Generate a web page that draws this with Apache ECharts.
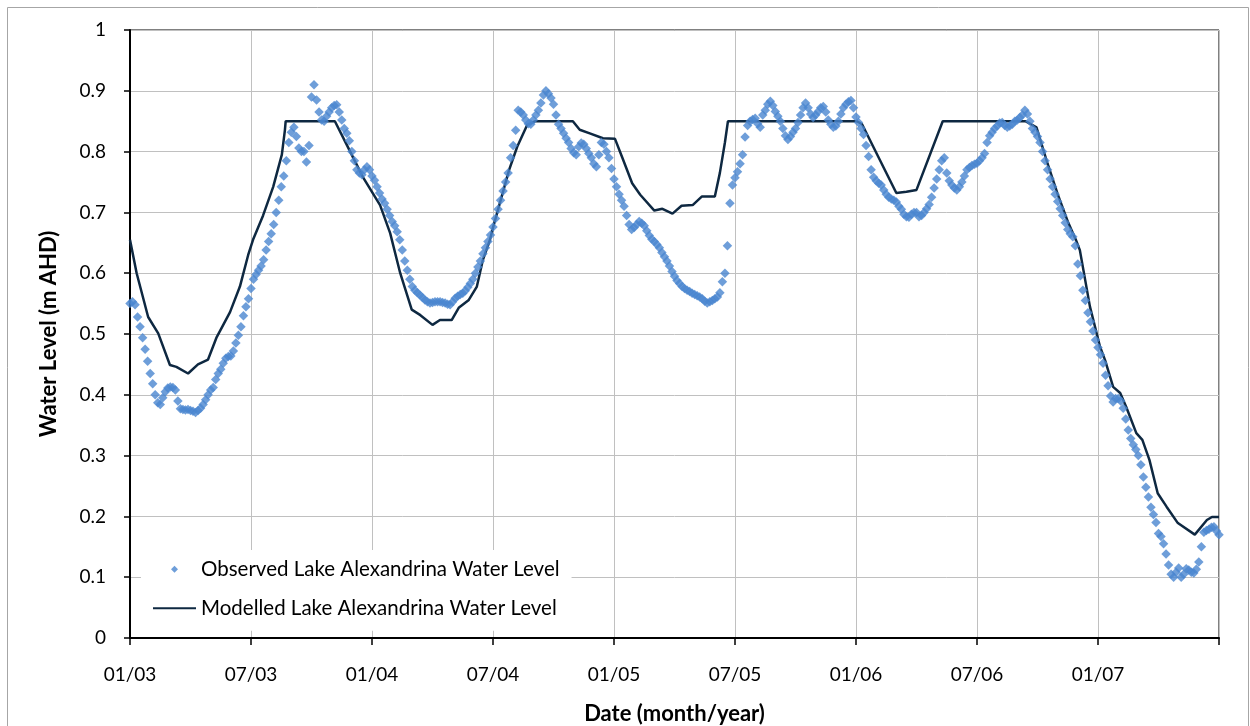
<!DOCTYPE html>
<html><head><meta charset="utf-8">
<script src="https://cdn.jsdelivr.net/npm/echarts@6/dist/echarts.min.js"></script>
<style>html,body{margin:0;padding:0;background:#fff}#c{width:1250px;height:726px}</style>
</head><body><div id="c"></div>
<script>
// X axis: months since January 2003 (tick every 6 months)
const xTickLabels = ['01/03','07/03','01/04','07/04','01/05','07/05','01/06','07/06','01/07',''];
const xAxisTitle = 'Date (month/year)';
const yAxisTitle = 'Water Level (m AHD)';
const observedName = 'Observed Lake Alexandrina Water Level';
const modelledName = 'Modelled Lake Alexandrina Water Level';

// Observed level, read every 1/8 month from 01/2003 (one row per month)
const obsStepMonths = 0.125;
const observedLevel = [
  0.550,0.553,0.548,0.528,0.512,0.494,0.475,0.455,
  0.435,0.418,0.400,0.387,0.384,0.395,0.405,0.411,
  0.413,0.412,0.408,0.390,0.377,0.376,0.375,0.376,
  0.374,0.373,0.371,0.374,0.378,0.384,0.392,0.400,
  0.408,0.412,0.425,0.435,0.442,0.452,0.460,0.463,
  0.464,0.472,0.485,0.498,0.512,0.530,0.545,0.558,
  0.575,0.590,0.598,0.605,0.612,0.622,0.638,0.652,
  0.665,0.680,0.700,0.720,0.742,0.760,0.785,0.815,
  0.832,0.840,0.825,0.806,0.800,0.800,0.783,0.810,
  0.890,0.910,0.885,0.865,0.852,0.850,0.858,0.865,
  0.872,0.876,0.877,0.865,0.852,0.838,0.830,0.818,
  0.800,0.785,0.770,0.765,0.762,0.770,0.775,0.770,
  0.760,0.753,0.742,0.732,0.722,0.715,0.705,0.695,
  0.685,0.678,0.668,0.655,0.638,0.620,0.605,0.590,
  0.578,0.572,0.568,0.564,0.560,0.556,0.553,0.551,
  0.552,0.553,0.553,0.553,0.552,0.551,0.549,0.548,
  0.553,0.559,0.562,0.565,0.567,0.571,0.577,0.583,
  0.590,0.600,0.610,0.620,0.632,0.642,0.652,0.663,
  0.676,0.690,0.705,0.720,0.735,0.750,0.765,0.790,
  0.810,0.835,0.868,0.865,0.860,0.852,0.846,0.845,
  0.852,0.860,0.868,0.880,0.893,0.900,0.895,0.888,
  0.878,0.860,0.845,0.838,0.830,0.822,0.815,0.805,
  0.798,0.795,0.808,0.814,0.812,0.805,0.797,0.790,
  0.780,0.775,0.795,0.815,0.812,0.800,0.790,0.772,
  0.755,0.742,0.730,0.720,0.710,0.695,0.680,0.672,
  0.675,0.680,0.685,0.682,0.678,0.670,0.662,0.656,
  0.652,0.647,0.642,0.634,0.627,0.620,0.612,0.603,
  0.595,0.588,0.583,0.578,0.575,0.572,0.570,0.567,
  0.565,0.563,0.561,0.558,0.554,0.551,0.553,0.555,
  0.558,0.561,0.568,0.586,0.600,0.645,0.715,0.745,
  0.757,0.767,0.780,0.795,0.824,0.843,0.850,0.853,
  0.855,0.846,0.840,0.860,0.868,0.878,0.883,0.876,
  0.866,0.858,0.850,0.838,0.826,0.820,0.825,0.832,
  0.838,0.848,0.860,0.872,0.880,0.872,0.862,0.856,
  0.860,0.866,0.872,0.874,0.865,0.852,0.845,0.840,
  0.842,0.850,0.862,0.872,0.878,0.882,0.884,0.872,
  0.857,0.848,0.838,0.828,0.810,0.792,0.770,0.758,
  0.752,0.748,0.745,0.737,0.730,0.725,0.722,0.720,
  0.717,0.710,0.705,0.697,0.693,0.692,0.697,0.700,
  0.700,0.693,0.695,0.700,0.706,0.713,0.725,0.740,
  0.755,0.770,0.785,0.790,0.765,0.752,0.745,0.740,
  0.737,0.742,0.750,0.760,0.770,0.774,0.777,0.779,
  0.781,0.785,0.790,0.797,0.815,0.826,0.832,0.838,
  0.842,0.847,0.848,0.843,0.840,0.842,0.845,0.850,
  0.852,0.856,0.860,0.868,0.862,0.850,0.838,0.832,
  0.825,0.815,0.800,0.785,0.770,0.755,0.742,0.730,
  0.718,0.706,0.695,0.683,0.672,0.665,0.660,0.645,
  0.615,0.596,0.572,0.555,0.535,0.520,0.505,0.490,
  0.478,0.466,0.452,0.432,0.415,0.398,0.388,0.394,
  0.394,0.390,0.378,0.360,0.342,0.328,0.318,0.310,
  0.300,0.285,0.265,0.248,0.232,0.215,0.203,0.190,
  0.172,0.167,0.155,0.138,0.120,0.105,0.100,0.108,
  0.115,0.100,0.105,0.114,0.112,0.108,0.107,0.113,
  0.125,0.150,0.174,0.177,0.179,0.182,0.183,0.176,
  0.170
];

// Modelled level: line vertices (months since 01/2003, level)
const modelledMonth = [
  0, 0.33, 0.9, 1.4, 1.98, 2.3, 2.88, 3.37, 3.87, 4.3, 4.96, 5.45, 5.86, 6.1, 6.6, 7.1, 7.53, 7.68, 7.72,
  10.16, 10.75, 11.55, 12.4, 12.9, 13.4, 13.97, 14.4, 15.0, 15.37, 15.95, 16.3, 16.8, 17.2, 17.5, 17.85,
  18.0, 18.8, 19.2, 19.7, 20.1, 21.96, 22.3, 22.8, 23.45, 24.05, 24.4, 24.9, 25.3, 26.0, 26.4, 26.9,
  27.35, 27.9, 28.35, 29.0, 29.25, 29.5, 29.65, 36.05, 36.3, 38.0, 38.5, 39.0, 40.3, 44.4, 44.95,
  45.5, 46.0, 46.5, 46.9, 47.1, 47.6, 48.1, 48.35, 48.75, 49.1, 49.4, 49.9, 50.2, 50.55, 50.96,
  51.4, 51.96, 52.8, 53.4, 53.65, 54.0
];
const modelledLevel = [
  0.655, 0.60, 0.528, 0.501, 0.449, 0.446, 0.435, 0.45, 0.458, 0.495, 0.536, 0.578, 0.63, 0.655, 0.695, 0.742, 0.795, 0.835, 0.85,
  0.85, 0.811, 0.758, 0.712, 0.666, 0.60, 0.54, 0.531, 0.515, 0.523, 0.523, 0.543, 0.556, 0.578, 0.622, 0.655,
  0.675, 0.77, 0.808, 0.844, 0.85, 0.85, 0.836, 0.83, 0.822, 0.821, 0.791, 0.748, 0.729, 0.703, 0.706, 0.698,
  0.711, 0.712, 0.726, 0.726, 0.765, 0.815, 0.85, 0.85, 0.845, 0.732, 0.734, 0.737, 0.85, 0.85, 0.84,
  0.78, 0.73, 0.685, 0.655, 0.638, 0.545, 0.479, 0.457, 0.413, 0.403, 0.38, 0.337, 0.326, 0.293, 0.238,
  0.216, 0.189, 0.17, 0.194, 0.199, 0.199
];

const FONT = 'Lato';
const chart = echarts.init(document.getElementById('c'), null, {renderer: 'canvas'});
chart.setOption({
  animation: false,
  backgroundColor: '#fff',
  graphic: [{
    type: 'rect', silent: true, z: -10,
    shape: {x: 7.5, y: 7.5, width: 1241, height: 740},
    style: {fill: 'none', stroke: '#a6a6a6', lineWidth: 1}
  }],
  grid: {
    left: 130, right: 31, top: 30, bottom: 88,
    show: true, borderColor: '#000', borderWidth: 1, backgroundColor: 'transparent',
    containLabel: false, outerBoundsMode: 'none'
  },
  legend: {
    orient: 'vertical', left: 141, top: 550,
    padding: [8.75, 12, 12, 11],
    backgroundColor: '#fff',
    itemWidth: 43, itemHeight: 7, itemGap: 18,
    symbolKeepAspect: true,
    textStyle: {fontFamily: FONT, fontSize: 20.5, color: '#000'},
    data: [
      {name: observedName, icon: 'path://M6,0L12,6L6,12L0,6Z'},
      {name: modelledName}
    ]
  },
  xAxis: {
    type: 'value', min: 0, max: 54, interval: 6,
    name: xAxisTitle, nameLocation: 'middle', nameGap: 65,
    nameTextStyle: {fontFamily: FONT, fontSize: 22, fontWeight: 'bold', color: '#000'},
    axisLine: {onZero: false, lineStyle: {color: '#000', width: 2}},
    axisTick: {show: true, inside: false, length: 7, lineStyle: {color: '#000', width: 1.5}},
    axisLabel: {
      margin: 27, fontFamily: FONT, fontSize: 19, color: '#000',
      formatter: v => xTickLabels[Math.round(v / 6)] || ''
    },
    splitLine: {show: true, lineStyle: {color: '#c0c0c0', width: 1}}
  },
  yAxis: {
    type: 'value', min: 0, max: 1, interval: 0.1,
    name: yAxisTitle, nameLocation: 'middle', nameGap: 70,
    nameTextStyle: {fontFamily: FONT, fontSize: 22, fontWeight: 'bold', color: '#000'},
    axisLine: {show: true, lineStyle: {color: '#000', width: 2}},
    axisTick: {show: true, inside: false, length: 6, lineStyle: {color: '#000', width: 1.5}},
    axisLabel: {margin: 24, fontFamily: FONT, fontSize: 19, color: '#000'},
    splitLine: {show: true, lineStyle: {color: '#c0c0c0', width: 1}}
  },
  series: [
    {
      name: modelledName, type: 'line', z: 2,
      data: modelledMonth.map((m, i) => [m, modelledLevel[i]]),
      showSymbol: false, symbol: 'none',
      lineStyle: {color: '#0e2841', width: 2.5},
      itemStyle: {color: 'rgba(0,0,0,0)'}
    },
    {
      name: observedName, type: 'scatter', z: 3,
      data: observedLevel.map((v, i) => [i * obsStepMonths, v]),
      symbol: 'diamond', symbolSize: [9.5, 9.5],
      itemStyle: {color: '#4a86cf'}
    }
  ]
});
</script></body></html>
